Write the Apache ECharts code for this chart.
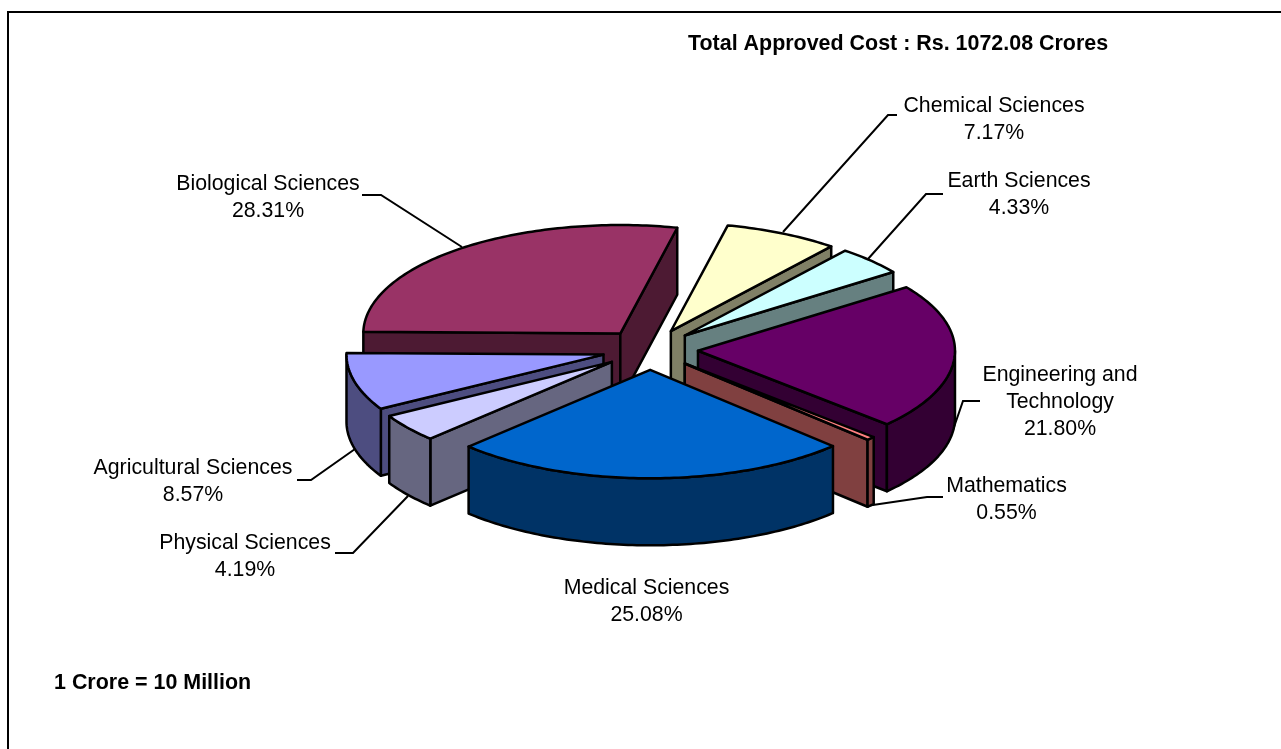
<!DOCTYPE html>
<html>
<head>
<meta charset="utf-8">
<title>Total Approved Cost</title>
<style>
    html, body { margin: 0; padding: 0; background: #fff; }
    #chart { width: 1281px; height: 749px; }
</style>
<script src="https://cdn.jsdelivr.net/npm/echarts@6/dist/echarts.min.js"></script>
</head>
<body>
<div id="chart"></div>
<script>
// clockwise order, first slice starts at startAngle
const categories = ['Chemical Sciences', 'Earth Sciences', 'Engineering and\nTechnology', 'Mathematics',
    'Medical Sciences', 'Physical Sciences', 'Agricultural Sciences', 'Biological Sciences'];
const shares = [7.17, 4.33, 21.80, 0.55, 25.08, 4.19, 8.57, 28.31];
const topColors = ['#ffffcc', '#ccffff', '#660066', '#ff8080', '#0066cc', '#ccccff', '#9999ff', '#993366'];
const sideColors = ['#808066', '#668080', '#330033', '#804040', '#003366', '#666680', '#4d4d80', '#4d1a33'];
// painter's order, back slices first
const drawOrder = [7, 0, 1, 6, 5, 2, 3, 4];

// label block centre and leader polyline per slice
const labelAnchors = [[994, 119.5], [1019, 194.5], [1060, 402], [1006.5, 499.5], [646.5, 602], [245, 556.5], [193, 481.5], [268, 197.5]];
const leaders = [
    [[783, 232], [888, 115], [897, 115]],
    [[868, 259], [926, 194], [943, 194]],
    [[953, 430], [963, 401], [980, 401]],
    [[866, 506], [927, 497], [943, 497]],
    null,
    [[408, 496], [353, 553], [335, 553]],
    [[355, 449], [311, 480], [297, 480]],
    [[462, 247], [381, 195], [362, 195]]
];

const startAngle = 12.8;
const center = [650, 349.5];
const rx = 257;
const ry = 108.5;
const depth = 67;
const explode = 0.187;
const fontSize = 21.3;
const boldSize = 21.45;

const total = shares.reduce((a, b) => a + b, 0);
const spans = [];
shares.reduce((from, v) => {
    const to = from + v / total * 360;
    spans.push([from, to]);
    return to;
}, startAngle);

function rad(deg) { return deg * Math.PI / 180; }

function renderSlice(params, api) {
    const idx = api.value(0);
    const [a0, a1] = spans[idx];
    const mid = rad((a0 + a1) / 2);
    const ox = center[0] + explode * rx * Math.sin(mid);
    const oy = center[1] - explode * ry * Math.cos(mid);
    const pt = (deg, drop) => [ox + rx * Math.sin(rad(deg)), oy - ry * Math.cos(rad(deg)) + drop];
    const style = { lineWidth: 2.5, stroke: '#000', lineJoin: 'round' };
    const children = [];
    const poly = (points, fill) => children.push({
        type: 'polygon', shape: { points: points }, style: Object.assign({ fill: fill }, style)
    });

    // outer rim, only where it faces the viewer
    const rimFrom = Math.max(a0, 90);
    const rimTo = Math.min(a1, 270);
    // start wall and end wall, only when they face the viewer
    const walls = [];
    if (Math.sin(rad(a0)) < 0) walls.push(a0);
    if (Math.sin(rad(a1)) > 0) walls.push(a1);
    walls.forEach(a => poly([[ox, oy], pt(a, 0), pt(a, depth), [ox, oy + depth]], sideColors[idx]));
    if (rimFrom < rimTo) {
        const rim = [];
        for (let a = rimFrom; a <= rimTo; a += 1) rim.push(pt(a, 0));
        rim.push(pt(rimTo, 0));
        for (let a = rimTo; a >= rimFrom; a -= 1) rim.push(pt(a, depth));
        rim.push(pt(rimFrom, depth));
        poly(rim, sideColors[idx]);
    }
    const top = [[ox, oy]];
    for (let a = a0; a < a1; a += 1) top.push(pt(a, 0));
    top.push(pt(a1, 0));
    poly(top, topColors[idx]);

    return { type: 'group', children: children };
}

const leaderGraphics = leaders.filter(Boolean).map(points => ({
    type: 'polyline',
    shape: { points: points },
    style: { stroke: '#000', lineWidth: 2, fill: null }
}));
const labelGraphics = categories.map((name, i) => ({
    type: 'text',
    x: labelAnchors[i][0],
    y: labelAnchors[i][1],
    style: {
        text: name + '\n' + shares[i].toFixed(2) + '%',
        font: fontSize + 'px "Liberation Sans"',
        lineHeight: 27,
        fill: '#000',
        textAlign: 'center',
        textVerticalAlign: 'middle'
    }
}));

const chart = echarts.init(document.getElementById('chart'));
chart.setOption({
    animation: false,
    backgroundColor: '#fff',
    title: [
        { text: 'Total Approved Cost : Rs. 1072.08 Crores', left: 683, top: 29,
          textStyle: { fontFamily: 'Liberation Sans', fontSize: boldSize, fontWeight: 'bold', color: '#000' } },
        { text: '1 Crore = 10 Million', left: 49, top: 668,
          textStyle: { fontFamily: 'Liberation Sans', fontSize: boldSize, fontWeight: 'bold', color: '#000' } }
    ],
    series: [{
        type: 'custom',
        coordinateSystem: 'none',
        silent: true,
        data: drawOrder.map(i => [i, shares[i]]),
        renderItem: renderSlice
    }],
    graphic: [
        { type: 'polyline', shape: { points: [[8, 749], [8, 12], [1281, 12]] },
          style: { stroke: '#000', lineWidth: 2, fill: null } }
    ].concat(leaderGraphics, labelGraphics)
});
</script>
</body>
</html>
